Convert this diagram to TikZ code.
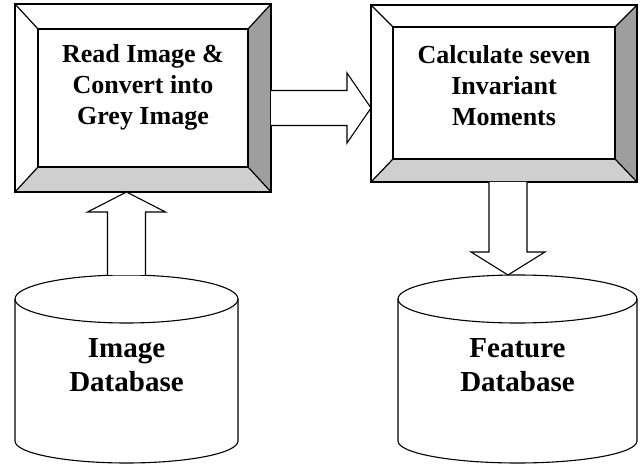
\documentclass[tikz,border=0pt]{standalone}
\usepackage{fontspec}
\setmainfont{Liberation Serif}
\usetikzlibrary{calc}

\tikzset{
  boxarea/.style={inner sep=0pt, outer sep=0pt},
  frameline/.style={draw, line width=1.2pt, line join=miter},
  darkbevel/.style={fill=black!38},
  lightbevel/.style={fill=black!19},
  boxtext/.style={align=center, font=\fontsize{26}{31}\selectfont\bfseries},
  dbtext/.style={align=center, font=\fontsize{29}{34}\selectfont\bfseries},
  dbline/.style={draw, line width=1.1pt},
  blockarrow/.style={draw, fill=white, line width=1.1pt, line join=miter},
}

\begin{document}
\begin{tikzpicture}[x=1pt, y=-1pt]
\useasboundingbox (0,0) rectangle (641,465);

% the two process boxes: outer frame and inner panel
\node[boxarea, minimum width=256pt, minimum height=188pt] (readframe) at (143,98) {};
\node[boxarea, minimum width=210pt, minimum height=138pt] (read) at (143,98) {};
\node[boxarea, minimum width=266pt, minimum height=177pt] (calcframe) at (504,93.5) {};
\node[boxarea, minimum width=222pt, minimum height=132pt] (calc) at (504,93) {};

\foreach \b in {read, calc} {
  \fill[darkbevel] (\b frame.north east) -- (\b frame.south east) -- (\b.south east) -- (\b.north east) -- cycle;
  \fill[lightbevel] (\b frame.south west) -- (\b frame.south east) -- (\b.south east) -- (\b.south west) -- cycle;
  \draw[frameline] (\b frame.north west) rectangle (\b frame.south east);
  \draw[frameline] (\b.north west) rectangle (\b.south east);
  \foreach \c in {north west, north east, south east, south west}
    \draw[frameline] (\b frame.\c) -- (\b.\c);
}

\node[boxtext] (readtxt) at (143,87) {Read Image \&\\Convert into\\Grey Image};
\node[boxtext] (calctxt) at (504,86) {Calculate seven\\Invariant\\Moments};

% databases
\coordinate (imgdb) at (126.5,299);
\coordinate (featdb) at (517.5,299);

\draw[dbline] ($(imgdb)+(-111.5,0)$) -- ++(0,142) arc[start angle=180, end angle=0, x radius=111.5, y radius=22] -- ++(0,-142);
\draw[dbline] (imgdb) ellipse [x radius=111.5, y radius=24];
\draw[dbline] ($(featdb)+(-119.5,0)$) -- ++(0,142) arc[start angle=180, end angle=0, x radius=119.5, y radius=22] -- ++(0,-142);
\draw[dbline] (featdb) ellipse [x radius=119.5, y radius=24];

\node[dbtext] (imgtxt) at (126.5,365) {Image\\Database};
\node[dbtext] (feattxt) at (517.5,365) {Feature\\Database};

% block arrows
\coordinate (utail) at ($(imgdb)+(0,-24)$);
\coordinate (utip) at (utail |- readframe.south);
\draw[blockarrow] ($(utail)+(-19,0)$) -- ($(utip)+(-19,20)$) -- ($(utip)+(-39,20)$) -- (utip)
  -- ($(utip)+(39,20)$) -- ($(utip)+(19,20)$) -- ($(utail)+(19,0)$);

\coordinate (rtail) at ($(readframe.east)+(0,10)$);
\coordinate (rtip) at (calcframe.west |- rtail);
\draw[blockarrow] ($(rtail)+(0,-17.5)$) -- ($(rtip)+(-24,-17.5)$) -- ($(rtip)+(-24,-35)$) -- (rtip)
  -- ($(rtip)+(-24,35)$) -- ($(rtip)+(-24,17.5)$) -- ($(rtail)+(0,17.5)$);

\coordinate (dtail) at ($(calcframe.south)+(4,0)$);
\coordinate (dtip) at ($(dtail |- featdb)+(0,-24)$);
\draw[blockarrow] ($(dtail)+(-19,0)$) -- ($(dtip)+(-19,-23)$) -- ($(dtip)+(-37,-23)$) -- (dtip)
  -- ($(dtip)+(37,-23)$) -- ($(dtip)+(19,-23)$) -- ($(dtail)+(19,0)$);

\end{tikzpicture}
\end{document}
